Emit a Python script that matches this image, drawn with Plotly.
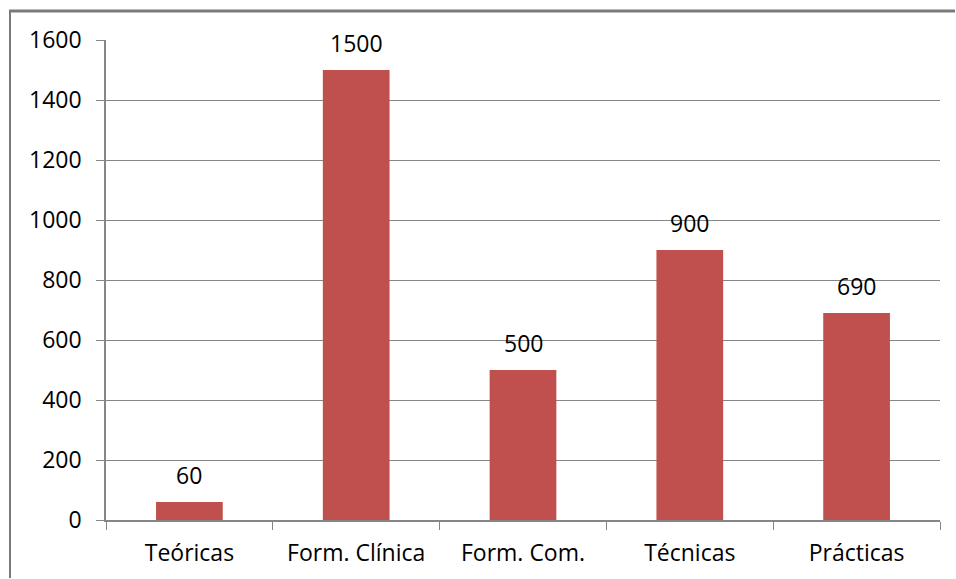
import plotly.graph_objects as go

categories = ["Teóricas", "Form. Clínica", "Form. Com.", "Técnicas", "Prácticas"]
values = [60, 1500, 500, 900, 690]
y_ticks = [0, 200, 400, 600, 800, 1000, 1200, 1400, 1600]

BAR_COLOR = "#C0504D"
GRID_COLOR = "#868686"
FRAME_COLOR = "#7a7a7a"
FONT = "Open Sans"
FONT_SIZE = 23

W, H = 956, 579
ML, MR, MT, MB = 106, 16, 40, 59
plot_w = W - ML - MR
plot_h = H - MT - MB

fig = go.Figure()
fig.add_trace(go.Bar(
    x=categories,
    y=values,
    marker=dict(color=BAR_COLOR, line=dict(width=0)),
    hoverinfo="skip",
))

# value labels above each bar
for c, v in zip(categories, values):
    fig.add_annotation(
        x=c, y=v, text=str(v), showarrow=False,
        yanchor="bottom", yshift=9,
        font=dict(family=FONT, size=FONT_SIZE, color="#000000"),
    )

# outer chart frame: left and top edges (the rest runs past the page)
def px_x(px):
    return (px - ML) / plot_w

def px_y(py):
    return (H - MB - py) / plot_h

fig.add_shape(
    type="line", xref="paper", yref="paper",
    x0=px_x(9), x1=px_x(W - 1), y0=px_y(11), y1=px_y(11),
    line=dict(color=FRAME_COLOR, width=3), layer="above",
)
fig.add_shape(
    type="line", xref="paper", yref="paper",
    x0=px_x(10), x1=px_x(10), y0=px_y(10), y1=px_y(H - 1),
    line=dict(color=FRAME_COLOR, width=2), layer="above",
)

fig.update_layout(
    width=W, height=H,
    margin=dict(l=ML, r=MR, t=MT, b=MB, pad=0),
    paper_bgcolor="white", plot_bgcolor="white",
    bargap=0.6,
    showlegend=False,
    font=dict(family=FONT, size=FONT_SIZE, color="#000000"),
    xaxis=dict(
        type="category",
        tickson="boundaries",
        ticks="outside", ticklen=8, tickcolor=GRID_COLOR, tickwidth=1,
        showgrid=False,
        showline=True, linecolor=GRID_COLOR, linewidth=1.5,
        tickfont=dict(family=FONT, size=FONT_SIZE, color="#000000"),
        ticklabelstandoff=12,
    ),
    yaxis=dict(
        range=[0, 1600],
        tickvals=y_ticks,
        ticks="outside", ticklen=8, tickcolor=GRID_COLOR, tickwidth=1,
        showgrid=True, gridcolor=GRID_COLOR, gridwidth=1,
        showline=True, linecolor=GRID_COLOR, linewidth=1.5,
        zeroline=False,
        tickfont=dict(family=FONT, size=FONT_SIZE, color="#000000"),
        ticklabelstandoff=10,
    ),
)

fig.write_html("out.html", config={"displayModeBar": False})
